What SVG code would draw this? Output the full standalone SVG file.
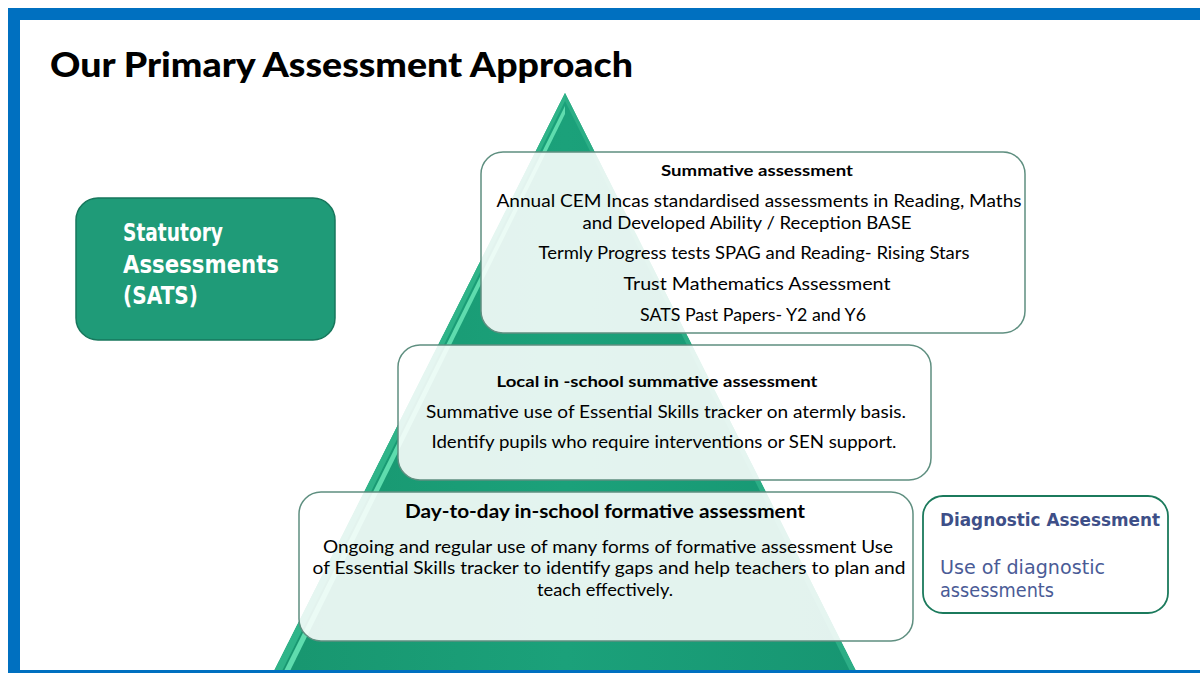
<svg xmlns="http://www.w3.org/2000/svg" width="1200" height="673" viewBox="0 0 1200 673">
<defs>
<style>
.cal{font-family:Lato,"Liberation Sans",sans-serif;fill:#000;text-anchor:middle}
.b{font-weight:bold}
.box{fill:#ffffff;fill-opacity:0.88;stroke:#5f8f80;stroke-width:1.5}
.gth{font-family:"DejaVu Sans","Liberation Sans",sans-serif}
</style>
<linearGradient id="tri" x1="0" y1="0" x2="1" y2="0">
<stop offset="0" stop-color="#18966f"/>
<stop offset="0.5" stop-color="#1ba17a"/>
<stop offset="1" stop-color="#179672"/>
</linearGradient>
</defs>
<rect width="1200" height="673" fill="#fff"/>
<g id="pyramid">
<polygon points="565,93 273,673 857,673" fill="url(#tri)"/>
<polygon points="565,93 273,673 281,673 565,101" fill="#2fb489"/>
<polygon points="565,106 283,673 289,673 565,114" fill="#5fdcae"/>
<polygon points="565,93 857,673 851,673 565,101" fill="#2cae86"/>
</g>
<g id="frame">
<rect x="8" y="8" width="1192" height="12" fill="#0070c0"/>
<rect x="8" y="8" width="12" height="665" fill="#0070c0"/>
<rect x="8" y="670" width="1192" height="3" fill="#0070c0"/>
</g>
<g id="title">
<text x="50" y="77" font-family="Lato,'Liberation Sans',sans-serif" font-weight="900" font-size="34" textLength="583" lengthAdjust="spacingAndGlyphs">Our Primary Assessment Approach</text>
</g>
<g id="connectors"/>
<g id="sats">
<rect x="76" y="198" width="259" height="142" rx="22" fill="#1f9b78" stroke="#17775c" stroke-width="1.5"/>
<g class="gth" font-weight="bold" font-size="24" fill="#fff">
<text x="123" y="241" textLength="100" lengthAdjust="spacingAndGlyphs">Statutory</text>
<text x="123" y="273" textLength="156" lengthAdjust="spacingAndGlyphs">Assessments</text>
<text x="123" y="304" textLength="75" lengthAdjust="spacingAndGlyphs">(SATS)</text>
</g>
</g>
<g id="summative">
<rect class="box" x="481" y="152" width="544" height="181" rx="22"/>
<text class="cal b" x="757" y="176" font-size="15" textLength="192" lengthAdjust="spacingAndGlyphs">Summative assessment</text>
<text class="cal" x="759" y="207" font-size="17" textLength="525" lengthAdjust="spacingAndGlyphs">Annual CEM Incas standardised assessments in Reading, Maths</text>
<text class="cal" x="747" y="229" font-size="17" textLength="329" lengthAdjust="spacingAndGlyphs">and Developed Ability / Reception BASE</text>
<text class="cal" x="754" y="259" font-size="17" textLength="431" lengthAdjust="spacingAndGlyphs">Termly Progress tests SPAG and Reading- Rising Stars</text>
<text class="cal" x="757" y="290" font-size="17" textLength="267" lengthAdjust="spacingAndGlyphs">Trust Mathematics Assessment</text>
<text class="cal" x="753" y="321" font-size="17" textLength="226" lengthAdjust="spacingAndGlyphs">SATS Past Papers- Y2 and Y6</text>
</g>
<g id="local">
<rect class="box" x="398" y="345" width="533" height="135" rx="22"/>
<text class="cal b" x="657" y="387" font-size="15" textLength="321" lengthAdjust="spacingAndGlyphs">Local in -school summative assessment</text>
<text class="cal" x="666" y="418" font-size="17" textLength="480" lengthAdjust="spacingAndGlyphs">Summative use of Essential Skills tracker on atermly basis.</text>
<text class="cal" x="664" y="448" font-size="17" textLength="465" lengthAdjust="spacingAndGlyphs">Identify pupils who require interventions or SEN support.</text>
</g>
<g id="formative">
<rect class="box" x="299" y="492" width="614" height="149" rx="22"/>
<text class="cal b" x="605" y="518" font-size="19" textLength="400" lengthAdjust="spacingAndGlyphs">Day-to-day in-school formative assessment</text>
<text class="cal" x="608" y="553" font-size="17" textLength="570" lengthAdjust="spacingAndGlyphs">Ongoing and regular use of many forms of formative assessment Use</text>
<text class="cal" x="609" y="574" font-size="17" textLength="593" lengthAdjust="spacingAndGlyphs">of Essential Skills tracker to identify gaps and help teachers to plan and</text>
<text class="cal" x="605" y="596" font-size="17" textLength="136" lengthAdjust="spacingAndGlyphs">teach effectively.</text>
</g>
<g id="diagnostic">
<rect x="923" y="496" width="245" height="117" rx="20" fill="#fff" stroke="#1b7a5c" stroke-width="1.8"/>
<text class="gth" x="940" y="526" font-size="18" font-weight="bold" fill="#3e4f88" textLength="220" lengthAdjust="spacingAndGlyphs">Diagnostic Assessment</text>
<text class="gth" x="940" y="574" font-size="19" fill="#4a5b96" textLength="165" lengthAdjust="spacingAndGlyphs">Use of diagnostic</text>
<text class="gth" x="940" y="597" font-size="19" fill="#4a5b96" textLength="114" lengthAdjust="spacingAndGlyphs">assessments</text>
</g>
</svg>
